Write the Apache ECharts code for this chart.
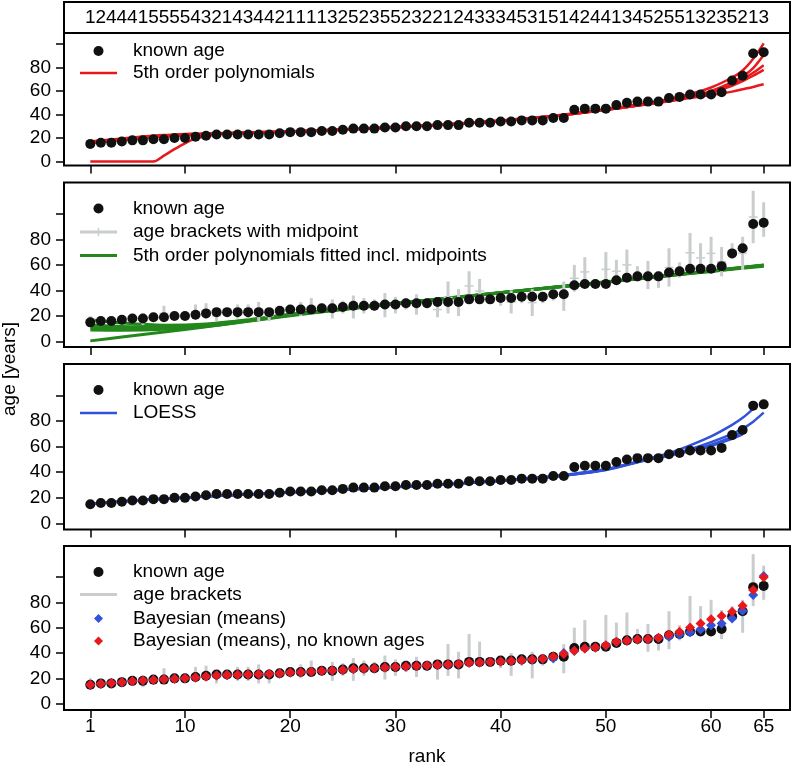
<!DOCTYPE html>
<html><head><meta charset="utf-8">
<script src="https://cdn.jsdelivr.net/npm/echarts@6/dist/echarts.min.js"></script>
<style>html,body{margin:0;padding:0;background:#fff}#c{width:796px;height:770px}</style>
</head><body><div id="c"></div><script>
// ---------------- data ----------------
var ranks = [1,2,3,4,5,6,7,8,9,10,11,12,13,14,15,16,17,18,19,20,21,22,23,24,25,26,27,28,29,30,31,32,33,34,35,36,37,38,39,40,41,42,43,44,45,46,47,48,49,50,51,52,53,54,55,56,57,58,59,60,61,62,63,64,65];
var stripDigits = ["1","2","4","4","4","1","5","5","5","5","4","3","2","1","4","3","4","4","2","1","1","1","1","3","2","5","2","3","5","5","2","3","2","2","1","2","4","3","3","3","4","5","3","1","5","1","4","2","4","4","1","3","4","5","2","5","5","1","3","2","3","5","2","1","3"];
var xTickValues = [1,10,20,30,40,50,60,65];
var yTickValues = [0,20,40,60,80,100];
var yLabelValues = [0,20,40,60,80];

var knownAge = [15,16,16,17,18,18,19,19,20,20,21,22,23,23,23,23,23,23,24,25,25,25,26,26,27,28,28,28,29,29,30,30,30,31,31,31,33,33,33,34,34,35,35,35,37,37,44,45,45,45,48,50,51,51,51,54,55,57,57,57,59,69,73,92,93];

var bracketLow  = [14,14,14,15,15,13,16,16,17,17,17,18,16,20,18,18,16,16,21,21,20,21,23,18,22,18,22,24,19,22,25,21,26,19,22,20,32,30,30,28,22,30,20,30,32,24,39,43,42,43,46,48,47,41,42,43,50,54,54,56,51,65,56,77,82];
var bracketHigh = [20,19,19,20,21,22,21,28,23,23,29,30,24,25,29,29,31,24,26,28,31,34,28,33,32,36,34,33,38,35,34,37,33,31,47,41,55,49,36,36,40,38,41,38,39,47,60,66,47,70,64,72,59,63,55,73,62,85,77,82,74,77,82,118,109];

// panel 1: 5th order polynomials
var polyRanks = [1,3,5,7,8,9,10,11,13,15,20,25,30,35,40,45,50,55,58,60,62,63,64,65];
var polyA = [15.5,17.5,19.5,21,21.6,22.2,22.7,23.1,23.8,24.4,25.6,27.2,29.3,31.8,35,39,44.5,51.5,57.5,63,71.5,77.5,87.5,100.6];
var polyB = [16.5,18.2,19.9,21.3,21.9,22.4,22.8,23.2,23.7,24.2,25.4,27,29,31.5,34.5,38.5,44,50.5,55.5,60,67.5,72.5,79.5,90.6];
var polyC = [17,18.8,20.5,22,22.6,23,23.4,23.7,24.1,24.5,25.6,27.2,29.2,31.6,34.6,38.6,44,50.3,55,59,65.5,70,75.5,82];
var polyD = [16,17.6,19.2,20.6,21.2,21.8,22.3,22.8,23.5,24,25.3,27,29,31.4,34.4,38.5,44,50.3,55,58.8,64.5,68.5,73,78];
var polyE = [0,0,0,0,5,10.5,15.5,19.5,23,24.3,25.8,27.5,29.5,31.8,34.8,38.8,44.2,50,54,56.5,59.5,61.5,63.5,65.7];

// panel 2: polynomials fitted incl. midpoints
var midRanks = [1,4,8,12,16,20,25,30,35,40,45,50,55,60,65];
var midG1 = [0.5,3.5,7.5,11.5,15.8,20.2,25,29.5,33.8,38,42.2,46.4,50.6,54.9,59];
var midG2 = [9,8.8,9.5,11.8,16,20.6,25.2,29.6,33.9,38.1,42.4,46.6,50.9,55.3,59.7];
var midG3 = [11,10.3,10.5,12.5,16.4,20.9,25.4,29.7,33.9,38.1,42.3,46.5,50.8,55.1,59.4];
var midG4 = [13,11.8,11.5,13.2,16.8,21.1,25.5,29.8,34,38.2,42.4,46.6,50.9,55.3,59.8];
var midG5 = [17,14.5,12.8,13.8,17.1,21.3,25.6,29.9,34.1,38.3,42.5,46.7,51,55.5,60];

// panel 3: LOESS
var loessRanks = [1,5,10,15,20,25,30,35,40,45,50,54,56,58,60,62,63,64,65];
var loess1 = [15.3,17.8,20.2,22.3,24.3,26.3,28.5,30.8,33.5,37,42.5,50.5,55,61,68,77,82.5,89.5,null];
var loess2 = [15.5,18,20.3,22.4,24.4,26.4,28.5,30.7,33.3,36.6,42,50,53.5,58,63.5,70,74,79.5,86.5];
var loess3 = [15.2,17.7,20.1,22.2,24.2,26.2,28.3,30.6,33.2,36.5,41.8,49.8,53,56.5,60.5,66,69.5,null,null];
var loess4 = [15.4,17.9,20.2,22.3,24.3,26.3,28.4,30.7,33.3,36.7,42.2,50,53.3,57,61.5,67.5,72,null,null];

// panel 4: Bayesian
var bayesMeans = [15,15.8,16.3,17,17.7,18.2,18.6,19.3,19.7,20,20.6,21.5,22.2,22.6,22.9,23.1,23.3,23.4,23.8,24.6,24.9,25.2,25.7,26.1,26.6,27.3,27.6,28,28.5,29,29.4,29.8,30.2,30.6,30.8,31.2,32.3,32.6,32.9,33.3,33.7,34.2,34.7,35.3,35.8,40,41.5,43.5,44.3,46,48.6,49.6,50.6,50.9,51.8,52.8,54.7,56.3,58.5,62,63.4,67.3,73.4,85.8,100.8];
var bayesNoKnown = [15,15.8,16.3,17,17.7,18.2,18.6,19.3,19.7,20,20.7,21.5,22.2,22.6,22.9,23.1,23.3,23.4,23.8,24.6,24.9,25.2,25.7,26.1,26.6,27.3,27.6,28,28.5,29,29.4,29.8,30.2,30.6,30.9,31.3,32.3,32.6,32.9,33.3,33.7,34.3,34.8,35.5,37.2,39.2,41.8,43.6,44.4,46.2,48.8,49.7,50.7,51,52,54.7,56.7,60.2,63.4,66.6,69.2,72.6,77.3,89.8,99.8];

// ---------------- styling ----------------
var FONT = '"Liberation Sans", Arial, Helvetica, sans-serif';
var RED = '#e8191c', GREEN = '#23871c', BLUE = '#3153dc', GRAY = '#c9cdcd', BLACK = '#000';

function pairs(xs, ys){ return xs.map(function(x,i){ return [x, ys[i]]; }); }

var gridDefs = [
  {top:2, height:31},
  {top:33, height:132.5},
  {top:182.5, height:164.5},
  {top:364, height:165.5},
  {top:546, height:164}
];
var yRanges = [[0,1],[-3.4,109.4],[-4.3,124.5],[-4.7,124.5],[-5,124.5]];

var grids = gridDefs.map(function(g){
  return {left:64, width:726, top:g.top, height:g.height, show:true, borderColor:BLACK, borderWidth:2, backgroundColor:'transparent'};
});
var xAxes = gridDefs.map(function(g,i){
  return {type:'value', gridIndex:i, position:'bottom', min:-1.5, max:67.5,
    axisLine:{show:false, onZero:false}, splitLine:{show:false},
    axisTick:{show:i>0, inside:false, length:8, customValues:xTickValues, lineStyle:{color:BLACK,width:1.5}},
    axisLabel:{show:i===4, customValues:xTickValues, fontSize:19, fontFamily:FONT, color:BLACK, margin:7}};
});
var yAxes = gridDefs.map(function(g,i){
  return {type:'value', gridIndex:i, position:'left', min:yRanges[i][0], max:yRanges[i][1],
    axisLine:{show:false, onZero:false}, splitLine:{show:false},
    axisTick:{show:i>0, inside:false, length:8, customValues:yTickValues, lineStyle:{color:BLACK,width:1.5}},
    axisLabel:{show:i>0, customValues:yLabelValues, fontSize:19, fontFamily:FONT, color:BLACK, margin:13}};
});

function lineSeries(g, xs, ys, color, w){
  return {type:'line', xAxisIndex:g, yAxisIndex:g, data:pairs(xs,ys), showSymbol:false, symbol:'none',
    smooth:0.3, lineStyle:{color:color, width:w}, silent:true, z:2};
}
function dotSeries(g, ys, color, symbol, size, z){
  return {type:'scatter', xAxisIndex:g, yAxisIndex:g, data:pairs(ranks, ys), symbol:symbol, symbolSize:size,
    itemStyle:{color:color, opacity:1}, silent:true, z:z};
}
function bracketSeries(g, withMid){
  return {type:'custom', xAxisIndex:g, yAxisIndex:g, z:3, silent:true,
    data: ranks.map(function(r,i){ return [r, bracketLow[i], bracketHigh[i]]; }),
    encode:{x:0, y:[1,2]},
    renderItem:function(params, api){
      var x = api.value(0), lo = api.value(1), hi = api.value(2);
      var p1 = api.coord([x, lo]), p2 = api.coord([x, hi]);
      var ch = [{type:'line', shape:{x1:p1[0], y1:p1[1], x2:p2[0], y2:p2[1]}, style:{stroke:GRAY, lineWidth:3}}];
      if (withMid) {
        var pm = api.coord([x, (lo+hi)/2]);
        ch.push({type:'line', shape:{x1:pm[0]-4.5, y1:pm[1], x2:pm[0]+4.5, y2:pm[1]}, style:{stroke:GRAY, lineWidth:1.5}});
      }
      return {type:'group', children:ch};
    }};
}

var series = [];
// strip of digits
series.push({type:'custom', xAxisIndex:0, yAxisIndex:0, silent:true, z:5,
  data:ranks.map(function(r){ return [r, 0.5]; }),
  encode:{x:0, y:1},
  renderItem:function(params, api){
    var p = api.coord([api.value(0), api.value(1)]);
    return {type:'text', x:p[0], y:p[1], style:{text:stripDigits[params.dataIndex], fontSize:19, fontFamily:FONT, fill:BLACK, align:'center', verticalAlign:'middle'}};
  }});
// panel 1
[polyA, polyB, polyC, polyD, polyE].forEach(function(c){ series.push(lineSeries(1, polyRanks, c, RED, 2.5)); });
series.push(dotSeries(1, knownAge, '#111', 'circle', 10, 5));
// panel 2
[midG1, midG2, midG3, midG4, midG5].forEach(function(c){ series.push(lineSeries(2, midRanks, c, GREEN, 3)); });
series.push(bracketSeries(2, true));
series.push(dotSeries(2, knownAge, '#111', 'circle', 10, 5));
// panel 3
[loess1, loess2, loess3, loess4].forEach(function(c){ series.push(lineSeries(3, loessRanks, c, BLUE, 2.5)); });
series.push(dotSeries(3, knownAge, '#111', 'circle', 10, 5));
// panel 4
series.push(bracketSeries(4, false));
series.push(dotSeries(4, knownAge, '#111', 'circle', 10, 5));
series.push(dotSeries(4, bayesMeans, BLUE, 'diamond', 10, 6));
series.push(dotSeries(4, bayesNoKnown, RED, 'diamond', 10, 7));

// legends (graphic)
function lgDot(y){ return {type:'circle', shape:{cx:98.5, cy:y, r:5}, style:{fill:'#111'}}; }
function lgLine(y, color, w){ return {type:'line', shape:{x1:80, y1:y, x2:117, y2:y}, style:{stroke:color, lineWidth:w}}; }
function lgDiamond(y, color){ return {type:'polygon', shape:{points:[[98.5,y-4.5],[103,y],[98.5,y+4.5],[94,y]]}, style:{fill:color}}; }
function lgText(y, t){ return {type:'text', x:133, y:y, style:{text:t, fontSize:19, fontFamily:FONT, fill:BLACK, verticalAlign:'middle', align:'left'}}; }

var graphics = [
  lgDot(51), lgText(51,'known age'),
  lgLine(73, RED, 2.5), lgText(73,'5th order polynomials'),
  lgDot(208.5), lgText(208.5,'known age'),
  lgLine(232, GRAY, 3), {type:'line', shape:{x1:98.5,y1:228,x2:98.5,y2:236}, style:{stroke:GRAY,lineWidth:1.5}}, lgText(232,'age brackets with midpoint'),
  lgLine(255.5, GREEN, 3), lgText(255.5,'5th order polynomials fitted incl. midpoints'),
  lgDot(390), lgText(390,'known age'),
  lgLine(413, BLUE, 2.5), lgText(413,'LOESS'),
  lgDot(572), lgText(572,'known age'),
  lgLine(594.5, GRAY, 3), lgText(594.5,'age brackets'),
  lgDiamond(618.5, BLUE), lgText(618.5,'Bayesian (means)'),
  lgDiamond(641, RED), lgText(641,'Bayesian (means), no known ages'),
  {type:'text', x:10, y:369, rotation:Math.PI/2, style:{text:'age [years]', fontSize:19, fontFamily:FONT, fill:BLACK, align:'center', verticalAlign:'middle'}},
  {type:'text', x:427, y:757, style:{text:'rank', fontSize:19, fontFamily:FONT, fill:BLACK, align:'center', verticalAlign:'middle'}}
];

var chart = echarts.init(document.getElementById('c'), null, {renderer:'canvas'});
chart.setOption({
  animation:false,
  backgroundColor:'#fff',
  textStyle:{fontFamily:FONT},
  grid:grids, xAxis:xAxes, yAxis:yAxes, series:series, graphic:graphics
});
</script></body></html>
